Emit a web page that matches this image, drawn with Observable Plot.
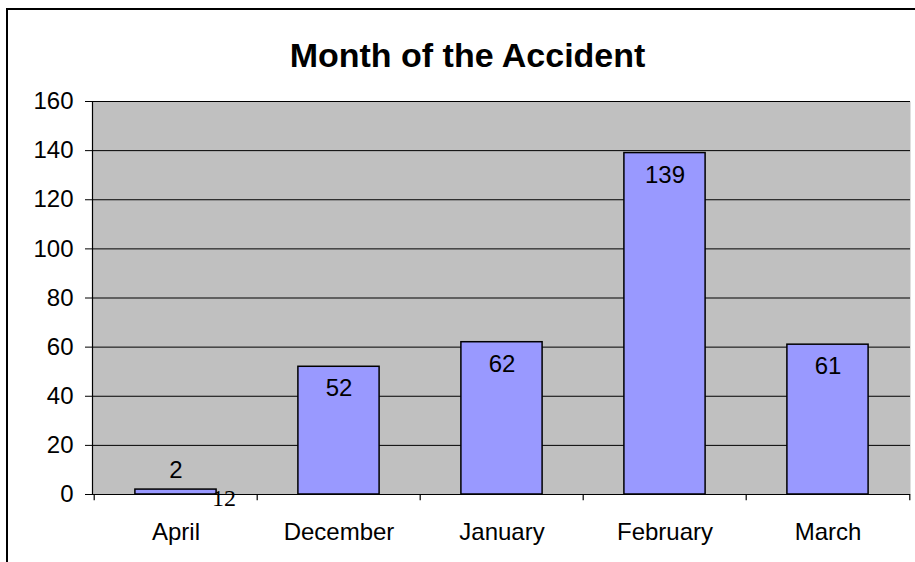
<!DOCTYPE html>
<html>
<head>
<meta charset="utf-8">
<script src="https://cdn.jsdelivr.net/npm/d3@7"></script>
<script src="https://cdn.jsdelivr.net/npm/@observablehq/plot@0.6"></script>
<style>
  html, body { margin: 0; padding: 0; background: #fff; overflow: hidden; }
  #wrap { position: relative; width: 915px; height: 562px; }
  #border { position: absolute; left: 6px; top: 8px; width: 1000px; height: 700px;
            border-left: 2px solid #000; border-top: 2px solid #000; pointer-events: none; }
</style>
</head>
<body>
<div id="wrap"><div id="border"></div></div>
<script>
const title = "Month of the Accident";
const months = ["April", "December", "January", "February", "March"];
const counts = [2, 52, 62, 139, 61];
const yTicks = [0, 20, 40, 60, 80, 100, 120, 140, 160];
const strayText = ["12"]; // stray label visible under the April bar

const data = months.map((m, i) => ({month: m, count: counts[i]}));
const W = 915, H = 562, mL = 92, mR = 5, mT = 101, mB = 68;
const bw = (W - mL - mR) / months.length;
const serif = "'Liberation Serif', 'Times New Roman', 'DejaVu Serif', serif";

const chart = Plot.plot({
  width: W, height: H,
  marginLeft: mL, marginRight: mR, marginTop: mT, marginBottom: mB,
  style: {fontFamily: "'Liberation Sans', Arial, sans-serif", fontSize: "24px", color: "#000", background: "transparent"},
  x: {domain: months, padding: 0, label: null},
  y: {domain: [0, 160], label: null},
  marks: [
    Plot.frame({fill: "#C0C0C0", stroke: "none"}),
    Plot.ruleY(yTicks, {stroke: "#000", strokeWidth: 1}),
    Plot.frame({anchor: "left", stroke: "#000", strokeWidth: 1.2}),
    Plot.axisY({ticks: yTicks, tickSize: 7, tickPadding: 12, fontSize: 24, tickFormat: d => String(d), label: null}),
    Plot.axisX({tickSize: 0, tickPadding: 28, fontSize: 24, label: null}),
    Plot.ruleX(months, {x: d => d, dx: -bw / 2, y1: 0, y2: -2.5, stroke: "#000", strokeWidth: 1.2}),
    Plot.ruleX(months.slice(-1), {x: d => d, dx: bw / 2, y1: 0, y2: -2.5, stroke: "#000", strokeWidth: 1.2}),
    Plot.barY(data, {x: "month", y: "count", fill: "#9999FF", stroke: "#000", strokeWidth: 1.5,
                     insetLeft: bw / 4, insetRight: bw / 4}),
    Plot.text(data.filter(d => d.count >= 10), {x: "month", y: "count", text: d => String(d.count),
                     dy: 22, fontSize: 24, fill: "#000"}),
    Plot.text(data.filter(d => d.count < 10), {x: "month", y: "count", text: d => String(d.count),
                     dy: -19, fontSize: 24, fill: "#000"}),
    Plot.text(strayText, {x: () => months[0], y: () => 0, text: d => d, dx: 48, dy: 4,
                     fontSize: 24, fontFamily: serif, fill: "#000", ariaLabel: "stray"}),
    Plot.text([title], {frameAnchor: "top", text: d => d, dx: -34, dy: -59,
                     fontSize: 34, fontWeight: "bold", fill: "#000"})
  ]
});
d3.select(chart).selectAll("g[aria-label='stray'] text").style("font-family", serif);
document.getElementById("wrap").prepend(chart);
</script>
</body>
</html>
